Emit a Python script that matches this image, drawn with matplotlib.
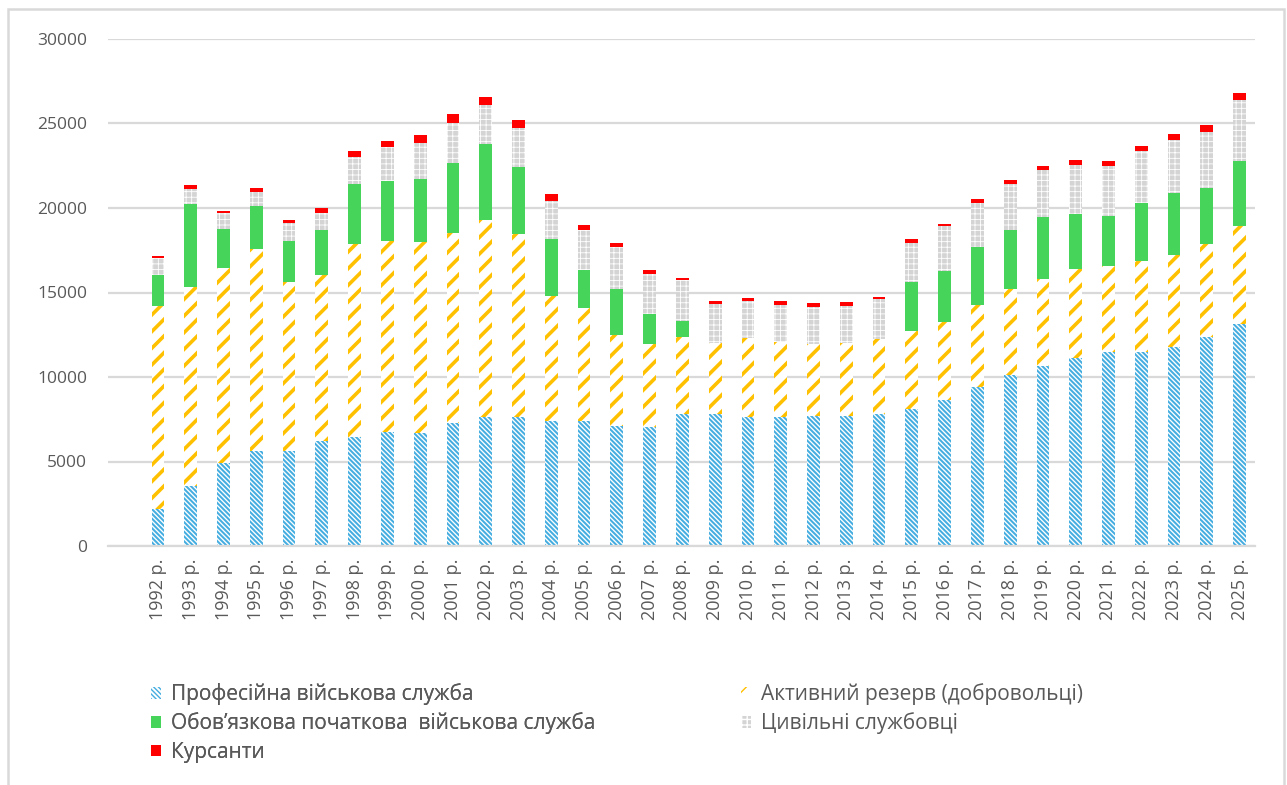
import matplotlib
matplotlib.use("Agg")
import matplotlib.pyplot as plt
import numpy as np
from matplotlib.patches import Rectangle

# ---------------------------
# Data
# ---------------------------
years = list(range(1992, 2026))
categories = [f"{y} р." for y in years]

professional = [2170, 3550, 4900, 5620, 5620, 6190, 6440, 6740, 6680, 7270,
                7650, 7650, 7400, 7390, 7090, 7020, 7800, 7800, 7610, 7610,
                7680, 7680, 7840, 8090, 8610, 9380, 10130, 10660, 11110, 11490,
                11490, 11790, 12390, 13160]
active_reserve = [12040, 11800, 11530, 11930, 10020, 9850, 11410, 11330, 11310, 11270,
                  11660, 10810, 7420, 6680, 5380, 4920, 4590, 4200, 4710, 4490,
                  4260, 4320, 4390, 4610, 4630, 4900, 5060, 5140, 5300, 5080,
                  5380, 5450, 5460, 5750]
conscripts = [1810, 4860, 2350, 2590, 2430, 2660, 3570, 3500, 3720, 4150,
              4470, 3940, 3320, 2270, 2720, 1810, 910, 0, 0, 0,
              0, 0, 0, 2940, 3010, 3420, 3490, 3640, 3250, 2960,
              3400, 3620, 3330, 3870]
civilians = [1030, 890, 900, 820, 1020, 980, 1590, 2030, 2130, 2350,
             2320, 2350, 2270, 2340, 2510, 2350, 2420, 2300, 2200, 2180,
             2210, 2210, 2370, 2280, 2660, 2570, 2740, 2810, 2900, 2950,
             3120, 3190, 3330, 3620]
cadets = [130, 260, 160, 240, 220, 320, 380, 380, 470, 530,
          480, 450, 390, 320, 230, 240, 140, 200, 160, 220,
          210, 230, 140, 220, 140, 240, 230, 230, 280, 300,
          290, 320, 400, 400]

labels = ["Професійна військова служба",
          "Активний резерв (добровольці)",
          "Обов’язкова початкова  військова служба",
          "Цивільні службовці",
          "Курсанти"]

TEXT_COLOR = "#595959"
GRID_COLOR = "#D9D9D9"

plt.rcParams['font.family'] = ['Open Sans', 'DejaVu Sans']


# ---------------------------
# Helper: one stacked series with its own hatch style
# ---------------------------
def stacked_bar(ax, x, values, bottom, width, face, hatch_color, hatch, hatch_lw):
    with plt.rc_context({'hatch.linewidth': hatch_lw}):
        bars = ax.bar(x, values, width, bottom=bottom, color=face,
                      edgecolor=hatch_color, hatch=hatch, linewidth=0)
    for b in bars:
        if hasattr(b, "set_hatch_linewidth"):
            b.set_hatch_linewidth(hatch_lw)
    return bars


def main():
    fig = plt.figure(figsize=(12.87, 7.85), dpi=100)
    ax = fig.add_axes([108 / 1287, 1 - 546 / 785, (1255 - 108) / 1287, (546 - 39) / 785])

    x = np.arange(len(categories))
    width = 0.39
    bottom = np.zeros(len(categories))

    # diagonal hatch: each character adds 3 stripes per inch (vertically)
    h_prof = stacked_bar(ax, x, professional, bottom, width, "white", "#45ADE0", "\\" * 7, 1.45)
    bottom += professional
    h_res = stacked_bar(ax, x, active_reserve, bottom, width, "white", "#FFC000", "//", 2.6)
    bottom += active_reserve
    h_con = stacked_bar(ax, x, conscripts, bottom, width, "#47D45A", "#47D45A", None, 0)
    bottom += conscripts
    h_civ = stacked_bar(ax, x, civilians, bottom, width, "#D4D4D4", "white", "+++", 0.6)
    bottom += civilians
    h_cad = stacked_bar(ax, x, cadets, bottom, width, "#FF0000", "#FF0000", None, 0)

    # axes styling
    ax.set_ylim(0, 30000)
    ax.set_xlim(-1.525, 33.47)
    ax.set_yticks(np.arange(0, 30001, 5000))
    ax.yaxis.grid(True, color=GRID_COLOR, linewidth=1.6)
    ax.set_axisbelow(True)
    for side in ["left", "right", "top"]:
        ax.spines[side].set_visible(False)
    ax.spines["bottom"].set_color(GRID_COLOR)
    ax.spines["bottom"].set_linewidth(1.6)
    ax.tick_params(axis="y", length=0, pad=15, labelsize=12.5, labelcolor=TEXT_COLOR)
    ax.tick_params(axis="x", length=0, pad=9, labelsize=13, labelcolor=TEXT_COLOR)
    ax.set_xticks(x)
    ax.set_xticklabels(categories, rotation=90)

    # legend split in two columns placed like the original
    leg_kw = dict(loc="upper left", frameon=False, borderpad=0, borderaxespad=0,
                  handlelength=0.5, handleheight=0.5, handletextpad=0.45,
                  labelspacing=0.36, fontsize=15, labelcolor=TEXT_COLOR)
    leg1 = fig.legend([h_prof, h_con, h_cad], [labels[0], labels[2], labels[4]],
                      bbox_to_anchor=(151 / 1287, 1 - 683 / 785), **leg_kw)
    fig.add_artist(leg1)
    fig.legend([h_res, h_civ], [labels[1], labels[3]],
               bbox_to_anchor=(741 / 1287, 1 - 683 / 785), **leg_kw)

    # chart frame
    fig.patches.append(Rectangle((8 / 1287, -0.02), (1284 - 8) / 1287, 1 - 9 / 785 + 0.02,
                                 transform=fig.transFigure, fill=False,
                                 edgecolor=GRID_COLOR, linewidth=1.8))

    fig.savefig("out.png", dpi=100)
    plt.close(fig)


if __name__ == "__main__":
    main()
